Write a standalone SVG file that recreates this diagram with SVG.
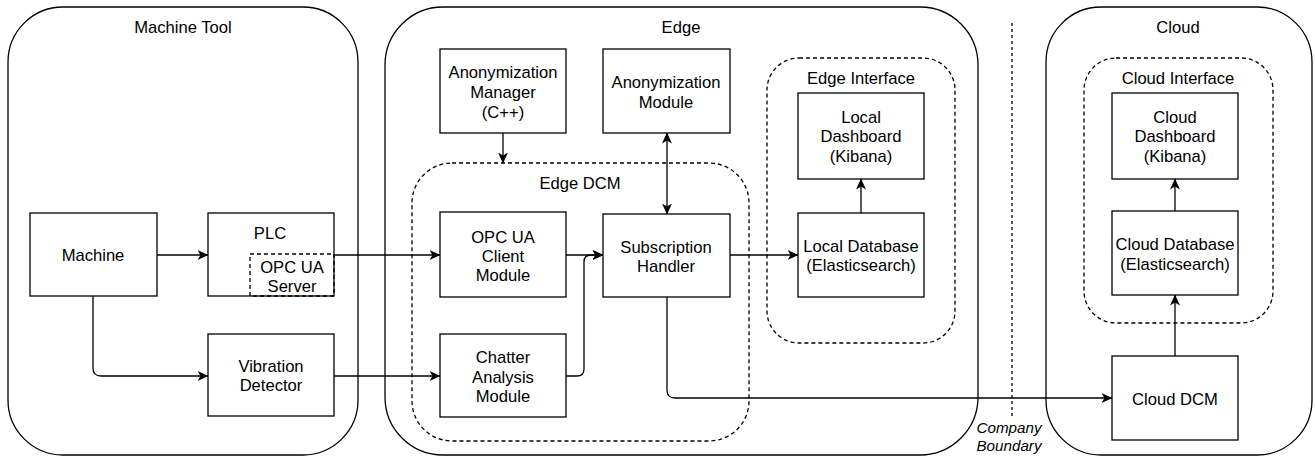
<svg xmlns="http://www.w3.org/2000/svg" width="1315" height="457" viewBox="0 0 1315 457">
<style>
text{font-family:"Liberation Sans",Arial,sans-serif;font-size:16.6px;fill:#000;text-anchor:middle}
.it{font-style:italic;font-size:15.2px}
.box{fill:#fff;stroke:#000;stroke-width:1.3}
.cont{fill:#fff;stroke:#000;stroke-width:1.3}
.dash{fill:none;stroke:#000;stroke-width:1.3;stroke-dasharray:4 3}
.edge{fill:none;stroke:#000;stroke-width:1.3;marker-end:url(#arr)}
</style>
<defs>
<marker id="arr" viewBox="0 0 11 11" refX="10.5" refY="5.5" markerWidth="11" markerHeight="11" orient="auto-start-reverse" markerUnits="userSpaceOnUse">
<path d="M0,0.5 L11,5.5 L0,10.5 L3,5.5 z" fill="#000"/>
</marker>
</defs>

<g id="machine-tool">
<rect class="cont" x="8" y="7" width="350" height="448" rx="55"/>
<text x="183" y="33">Machine Tool</text>
</g>
<g id="edge-container">
<rect class="cont" x="385" y="7" width="593" height="448" rx="58"/>
<text x="681" y="33">Edge</text>
</g>
<g id="cloud-container">
<rect class="cont" x="1046" y="7" width="266" height="448" rx="55"/>
<text x="1178" y="33">Cloud</text>
</g>
<g id="company-boundary">
<line x1="1012" y1="23" x2="1012" y2="418" stroke="#000" stroke-width="1.3" stroke-dasharray="3 3"/>
<text class="it" x="1009" y="433">Company</text>
<text class="it" x="1009" y="451">Boundary</text>
</g>
<g id="edge-dcm">
<rect class="dash" x="412" y="163" width="337" height="278" rx="40"/>
<text x="580" y="189">Edge DCM</text>
</g>
<g id="edge-interface">
<rect class="dash" x="767" y="58" width="188" height="285" rx="32"/>
<text x="861" y="84">Edge Interface</text>
</g>
<g id="cloud-interface">
<rect class="dash" x="1084" y="58" width="189" height="265" rx="32"/>
<text x="1178" y="84">Cloud Interface</text>
</g>

<g id="connectors">
<path class="edge" d="M157,255 H208"/>
<path class="edge" d="M93,296 V368 Q93,376 101,376 H208"/>
<path class="edge" d="M334,255 H440"/>
<path class="edge" d="M334,376 H440"/>
<path class="edge" d="M503,133 V163"/>
<path d="M667,133 V214" fill="none" stroke="#000" stroke-width="1.3" marker-start="url(#arr)" marker-end="url(#arr)"/>
<path class="edge" d="M566,255 H603"/>
<path class="edge" d="M566,376 H577 Q584,376 584,369 V262 Q584,255 591,255 H603"/>
<path class="edge" d="M730,255 H798"/>
<path class="edge" d="M667,297 V390 Q667,398 675,398 H1112"/>
<path class="edge" d="M861,213 V179"/>
<path class="edge" d="M1175,356 V295"/>
<path class="edge" d="M1175,211 V179"/>
</g>

<g id="machine">
<rect class="box" x="30" y="213" width="127" height="83"/>
<text x="93" y="261">Machine</text>
</g>
<g id="plc">
<rect class="box" x="208" y="213" width="126" height="83"/>
<text x="270" y="239">PLC</text>
</g>
<g id="opc-ua-server">
<rect class="dash" x="250" y="254" width="84" height="42"/>
<text x="292" y="273">OPC UA</text>
<text x="292" y="292">Server</text>
</g>
<g id="vibration-detector">
<rect class="box" x="208" y="334" width="126" height="82"/>
<text x="271" y="372">Vibration</text>
<text x="271" y="391">Detector</text>
</g>
<g id="anonymization-manager">
<rect class="box" x="440" y="49" width="126" height="84"/>
<text x="503" y="78">Anonymization</text>
<text x="503" y="98">Manager</text>
<text x="503" y="118">(C++)</text>
</g>
<g id="anonymization-module">
<rect class="box" x="603" y="49" width="127" height="84"/>
<text x="666" y="88">Anonymization</text>
<text x="666" y="108">Module</text>
</g>
<g id="opc-ua-client">
<rect class="box" x="440" y="212" width="126" height="85"/>
<text x="503" y="243">OPC UA</text>
<text x="503" y="262">Client</text>
<text x="503" y="281">Module</text>
</g>
<g id="chatter-analysis">
<rect class="box" x="440" y="334" width="126" height="83"/>
<text x="503" y="363">Chatter</text>
<text x="503" y="383">Analysis</text>
<text x="503" y="402">Module</text>
</g>
<g id="subscription-handler">
<rect class="box" x="603" y="214" width="127" height="83"/>
<text x="666" y="253">Subscription</text>
<text x="666" y="272">Handler</text>
</g>
<g id="local-dashboard">
<rect class="box" x="798" y="93" width="126" height="86"/>
<text x="861" y="123">Local</text>
<text x="861" y="142">Dashboard</text>
<text x="861" y="162">(Kibana)</text>
</g>
<g id="local-database">
<rect class="box" x="798" y="213" width="126" height="84"/>
<text x="861" y="252">Local Database</text>
<text x="861" y="271">(Elasticsearch)</text>
</g>
<g id="cloud-dashboard">
<rect class="box" x="1112" y="93" width="126" height="86"/>
<text x="1175" y="123">Cloud</text>
<text x="1175" y="142">Dashboard</text>
<text x="1175" y="162">(Kibana)</text>
</g>
<g id="cloud-database">
<rect class="box" x="1112" y="211" width="126" height="84"/>
<text x="1175" y="250">Cloud Database</text>
<text x="1175" y="270">(Elasticsearch)</text>
</g>
<g id="cloud-dcm">
<rect class="box" x="1112" y="356" width="126" height="84"/>
<text x="1175" y="405">Cloud DCM</text>
</g>
</svg>
